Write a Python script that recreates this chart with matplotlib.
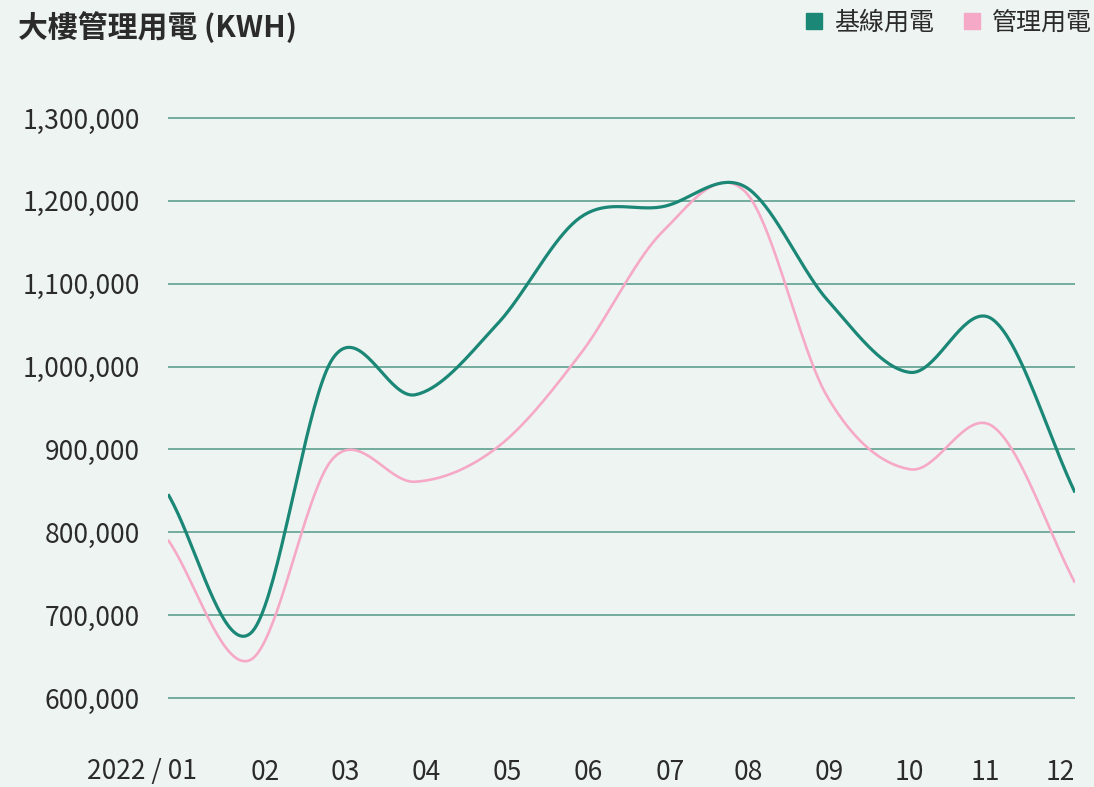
import numpy as np
import matplotlib
matplotlib.use("Agg")
import matplotlib.pyplot as plt
from matplotlib.lines import Line2D
from matplotlib.ticker import FuncFormatter

plt.rcParams['font.family'] = ['Noto Sans CJK TC', 'DejaVu Sans']

# 資料 (千度換算成度)
months = ["2022 / 01", "02", "03", "04", "05", "06", "07", "08", "09", "10", "11", "12"]
baseline = [846, 678, 1010, 966, 1052, 1180, 1193, 1217, 1080, 993, 1057, 848]
managed = [791, 646, 889, 861, 903, 1015, 1163, 1211, 963, 876, 928, 739]
baseline = np.array(baseline) * 1000
managed = np.array(managed) * 1000
yticks = np.arange(600000, 1300001, 100000)

green = "#1b8776"
pink = "#f6a9c6"
bg = "#eef4f1"
grid_c = "#72ad9c"
txt = "#2b2b2b"


def smooth(y, n=40):
    # Catmull-Rom 曲線, 通過每個點
    y = np.asarray(y, dtype=float)
    k = len(y)
    m = np.zeros(k)
    m[1:-1] = (y[2:] - y[:-2]) / 2
    m[0] = y[1] - y[0]
    m[-1] = y[-1] - y[-2]
    xs, ys = [], []
    for i in range(k - 1):
        t = np.linspace(0, 1, n, endpoint=(i == k - 2))
        h00 = 2*t**3 - 3*t**2 + 1
        h10 = t**3 - 2*t**2 + t
        h01 = -2*t**3 + 3*t**2
        h11 = t**3 - t**2
        xs.append(i + t)
        ys.append(h00*y[i] + h10*m[i] + h01*y[i+1] + h11*m[i+1])
    return np.concatenate(xs), np.concatenate(ys)


W, H = 1094, 787
fig = plt.figure(figsize=(W/100, H/100), dpi=100, facecolor=bg)
# y: 1,300,000 -> 118px, 600,000 -> 698px
ppu = (698 - 118) / 700000
top = 118 - 10000*ppu
bot = 698 + 10000*ppu
ax = fig.add_axes([168/W, 1 - bot/H, (1075-168)/W, (bot-top)/H])
ax.set_facecolor(bg)

for v in yticks:
    ax.axhline(v, color=grid_c, lw=1.4, zorder=1)

x1, y1 = smooth(baseline)
x2, y2 = smooth(managed)
ax.plot(x2, y2, color=pink, lw=1.9, zorder=3, solid_capstyle='butt')
ax.plot(x1, y1, color=green, lw=2.3, zorder=4, solid_capstyle='butt')

for s in ax.spines.values():
    s.set_visible(False)

ax.set_xlim(0, 11)
ax.set_ylim(590000, 1310000)

ax.set_yticks(yticks)
ax.yaxis.set_major_formatter(FuncFormatter(lambda v, p: f"{v:,.0f}"))
ax.tick_params(axis='y', length=0, pad=20.5, labelsize=19, labelcolor=txt)
ax.set_xticks([])

# x 標籤 (位置不在資料點上)
tick_px = [142, 265, 345.6, 426, 507, 588, 670, 748, 829, 909, 985.5, 1060]
step = (1075 - 168) / 11
label_y = -(772 - bot) / (bot - top)
for p, lab in zip(tick_px, months):
    ax.text((p - 168) / step, label_y, lab, transform=ax.get_xaxis_transform(),
            ha='center', va='center', fontsize=19, color=txt, clip_on=False)

fig.text(18/W, 1 - 27/H, "大樓管理用電 (KWH)", fontsize=21.5, fontweight='bold',
         color=txt, va='center', ha='left')

handles = [Line2D([], [], marker='s', linestyle='', color=green, markersize=12),
           Line2D([], [], marker='s', linestyle='', color=pink, markersize=12)]
fig.legend(handles, ["基線用電", "管理用電"], loc='upper right',
           bbox_to_anchor=(1.007, 1.0), ncol=2, frameon=False, fontsize=18,
           handletextpad=0.3, columnspacing=1.0, labelcolor=txt,
           borderaxespad=0.0, handlelength=1.0)

fig.savefig("out.png", dpi=100, facecolor=bg)
